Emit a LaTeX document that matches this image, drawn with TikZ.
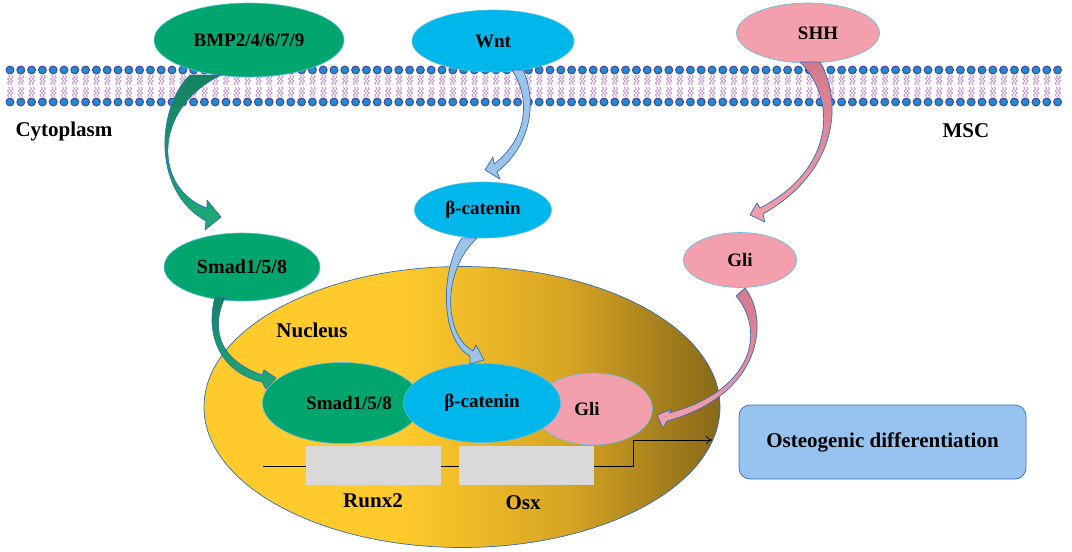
\documentclass[tikz,border=0pt]{standalone}
\usepackage{fontspec}
\setmainfont{Liberation Serif}
\usetikzlibrary{shapes.geometric,arrows.meta}
\definecolor{grn}{RGB}{0,166,110}
\definecolor{grnA}{RGB}{20,130,95}
\definecolor{grnB}{RGB}{30,170,120}
\definecolor{cyn}{RGB}{0,183,235}
\definecolor{pnk}{RGB}{244,160,172}
\definecolor{pnkA}{RGB}{210,120,140}
\definecolor{ltblue}{RGB}{150,195,240}
\definecolor{arrblue}{RGB}{157,195,230}
\definecolor{edge}{RGB}{50,110,185}
\definecolor{rim}{RGB}{90,190,225}
\definecolor{nucA}{RGB}{254,202,44}
\definecolor{nucM}{RGB}{215,165,35}
\definecolor{nucB}{RGB}{135,105,25}
\definecolor{headc}{RGB}{30,140,210}
\definecolor{headr}{RGB}{75,75,155}
\definecolor{tailc}{RGB}{195,145,205}
\definecolor{boxc}{RGB}{217,217,217}
\pgfdeclarehorizontalshading{nucshade}{100bp}{color(0bp)=(nucA); color(25bp)=(nucA); color(44bp)=(nucA); color(60bp)=(nucM); color(75bp)=(nucB); color(100bp)=(nucB)}
\begin{document}
\begin{tikzpicture}[x=1pt,y=-1pt,
  oval/.style={ellipse,inner sep=0pt,draw=rim,line width=0.6pt,font=\fontsize{19}{22}\selectfont\bfseries},
  freelbl/.style={font=\fontsize{21}{24}\selectfont\bfseries,inner sep=0pt},
  blk/.style={draw=edge,line width=0.7pt,line join=round},
  tail/.style={draw=tailc,line width=0.8pt}]
\useasboundingbox (0,0) rectangle (1072,552);
% membrane
\foreach \i in {0,...,97}{
  \pgfmathsetmacro{\xx}{10+10.8*\i}
  \draw[tail] (\xx-1.5,75) -- ++(1.5,2) -- ++(-2.5,2) -- ++(2.5,2) -- ++(-2.5,2) -- ++(1.5,2);
  \draw[tail] (\xx+1.5,75) -- ++(1.5,2) -- ++(-2.5,2) -- ++(2.5,2) -- ++(-2.5,2) -- ++(1.5,2);
  \draw[tail] (\xx-1.5,87) -- ++(1.5,2) -- ++(-2.5,2) -- ++(2.5,2) -- ++(-2.5,2) -- ++(1.5,2);
  \draw[tail] (\xx+1.5,87) -- ++(1.5,2) -- ++(-2.5,2) -- ++(2.5,2) -- ++(-2.5,2) -- ++(1.5,2);
  \fill[headc,draw=headr,line width=1.1pt] (\xx,70) circle (3.9);
  \fill[headc,draw=headr,line width=1.1pt] (\xx,102) circle (3.9);
}
% labels
\node[freelbl] (cyto) at (64,131) {Cytoplasm};
\node[freelbl] (msc) at (966,131) {MSC};
% nucleus
\node[ellipse,draw=edge,line width=0.7pt,shading=nucshade,minimum width=516pt,minimum height=281pt] (nuc) at (462,407) {};
\node[freelbl] (nuclbl) at (312,330) {Nucleus};
% top ligands
\node[oval,fill=grn,minimum width=190pt,minimum height=74pt] (bmp) at (249,40) {BMP2/4/6/7/9};
\node[oval,fill=cyn,minimum width=162pt,minimum height=62pt] (wnt) at (493,41) {Wnt};
\node[oval,fill=pnk,minimum width=143pt,minimum height=60pt] (shh) at (808,33) {\hspace{20pt}SHH};
% cytoplasm mediators
\node[oval,fill=grn,minimum width=156pt,minimum height=68pt,font=\fontsize{20}{22}\selectfont\bfseries] (smadc) at (242,267) {Smad1/5/8};
\node[oval,fill=cyn,minimum width=137pt,minimum height=56pt] (betac) at (483,210) {β-catenin};
\node[oval,fill=pnk,minimum width=113pt,minimum height=55pt] (glic) at (740,260) {Gli};
% nucleus complex
\node[oval,fill=pnk,minimum width=119pt,minimum height=72pt] (glin) at (593,409) {\hspace{-12pt}Gli};
\node[oval,fill=grn,minimum width=159pt,minimum height=81pt] (smadn) at (342,403) {\hspace{14pt}Smad1/5/8};
\node[oval,fill=cyn,minimum width=157pt,minimum height=79pt] (betan) at (482,403) {β-catenin};
% gene line
\coordinate (g0) at (263,466);
\coordinate (g1) at (633,466);
\coordinate (g2) at (633,440);
\coordinate (g3) at (712,440);
\draw[line width=0.7pt] (g0) -- (g1) -- (g2);
\draw[line width=0.7pt,-{To[length=6pt,width=8pt]}] (g2) -- (g3);
\node[fill=boxc,minimum width=135pt,minimum height=39pt,inner sep=0pt] (runx) at (373.5,465.5) {};
\node[fill=boxc,minimum width=135pt,minimum height=39pt,inner sep=0pt] (osx) at (526.5,465.5) {};
\node[freelbl] (runxl) at (373,501) {Runx2};
\node[freelbl] (osxl) at (523,503) {Osx};
% result box
\node[rectangle,rounded corners=11pt,fill=ltblue,draw=edge,line width=0.7pt,minimum width=287pt,minimum height=74pt,font=\fontsize{21}{24}\selectfont\bfseries] (osteo) at (882.5,442) {Osteogenic differentiation};
% curved block arrows
% BMP -> Smad (cytoplasm)
\shade[blk,top color=grnA,bottom color=grnB] (190,75) .. controls (158,105) and (150,190) .. (206,221) -- (205,230) -- (221,217) -- (207,200) -- (207,208) .. controls (155,190) and (150,110) .. (221,75) -- cycle;
% Smad (cyto) -> Smad (nucleus)
\shade[blk,top color=grnA,bottom color=grnB] (215,297) .. controls (205,335) and (220,372) .. (262,382) -- (266,389) -- (276,378) -- (264,370) -- (262,375) .. controls (225,362) and (208,335) .. (225,297) -- cycle;
% Wnt -> beta-catenin (cyto)
\fill[blk,fill=arrblue] (523,70) .. controls (537,100) and (532,145) .. (497,172) -- (500,179) -- (485,170) -- (493,157) -- (494,164) .. controls (526,140) and (532,100) .. (512,70) -- cycle;
% beta-catenin (cyto) -> beta-catenin (nucleus)
\fill[blk,fill=arrblue] (462,238) .. controls (440,270) and (440,340) .. (470,356) -- (470,364) -- (484,360) -- (476,345) -- (473,351) .. controls (444,335) and (441,272) .. (477,238) -- cycle;
% SHH -> Gli (cyto)
\shade[blk,top color=pnkA,bottom color=pnk] (820,62) .. controls (842,100) and (840,170) .. (763,214) -- (765,222) -- (750,215) -- (757,203) -- (760,208) .. controls (834,170) and (838,100) .. (800,62) -- cycle;
% Gli (cyto) -> Gli (nucleus)
\shade[blk,top color=pnkA,bottom color=pnk] (745,288) .. controls (770,320) and (762,395) .. (667,421) -- (663,428) -- (657,415) -- (672,409) -- (669,413) .. controls (755,390) and (765,330) .. (736,296) -- cycle;
\end{tikzpicture}
\end{document}
